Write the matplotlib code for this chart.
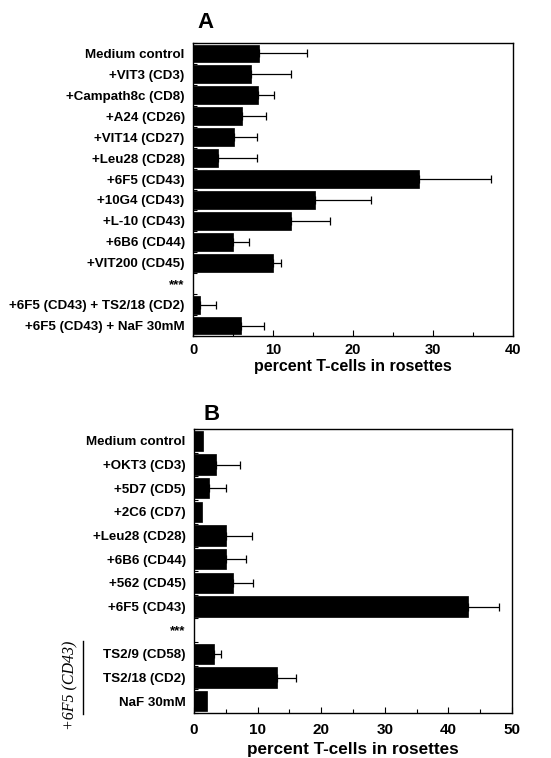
import numpy as np
import matplotlib
matplotlib.use("Agg")
import matplotlib.pyplot as plt
from matplotlib.lines import Line2D
from matplotlib.ticker import MultipleLocator

# ---------------- data ----------------
labels_a = ["Medium control", "+VIT3 (CD3)", "+Campath8c (CD8)", "+A24 (CD26)",
            "+VIT14 (CD27)", "+Leu28 (CD28)", "+6F5 (CD43)", "+10G4 (CD43)",
            "+L-10 (CD43)", "+6B6 (CD44)", "+VIT200 (CD45)", "***",
            "+6F5 (CD43) + TS2/18 (CD2)", "+6F5 (CD43) + NaF 30mM"]
values_a = [8.2, 7.2, 8.1, 6.1, 5.1, 3.1, 28.3, 15.2, 12.2, 5.0, 10.0, np.nan, 0.9, 6.0]
errors_a = [6.0, 5.0, 2.0, 3.0, 2.9, 4.9, 9.0, 7.1, 4.9, 2.0, 1.0, np.nan, 2.0, 2.9]

labels_b = ["Medium control", "+OKT3 (CD3)", "+5D7 (CD5)", "+2C6 (CD7)",
            "+Leu28 (CD28)", "+6B6 (CD44)", "+562 (CD45)", "+6F5 (CD43)", "***",
            "TS2/9 (CD58)", "TS2/18 (CD2)", "NaF 30mM"]
values_b = [1.4, 3.4, 2.3, 1.3, 5.1, 5.1, 6.2, 43.1, np.nan, 3.1, 13.0, 2.0]
errors_b = [0.0, 3.8, 2.8, 0.0, 4.0, 3.0, 3.0, 4.8, np.nan, 1.1, 3.0, 0.0]

xticks_a = [0, 10, 20, 30, 40]
xticks_b = [0, 10, 20, 30, 40, 50]
xlabel = "percent T-cells in rosettes"
group_label_b = "+6F5 (CD43)"

# ---------------- style ----------------
W, H = 551, 758
fig = plt.figure(figsize=(W / 100, H / 100), dpi=100)
SANS = ["Liberation Sans", "DejaVu Sans"]
SERIF = ["Liberation Serif", "DejaVu Serif"]


def px_axes(left, right, top, bottom):
    return fig.add_axes([left / W, 1 - bottom / H, (right - left) / W, (bottom - top) / H])


def draw_panel(ax, labels, values, errors, xmax, xticks, tick_fs, num_fs, xlab_fs, num_pad):
    n = len(labels)
    y = np.arange(n)
    vals = np.array(values, dtype=float)
    errs = np.array(errors, dtype=float)
    ok = ~np.isnan(vals)
    ax.barh(y[ok], vals[ok], height=0.85, color="black", edgecolor="black", linewidth=0.5)
    e = ok & (errs > 0)
    ax.errorbar(vals[e], y[e], xerr=[np.zeros(e.sum()), errs[e]], fmt="none",
                ecolor="black", elinewidth=0.9, capsize=3.2, capthick=0.9)
    ax.set_ylim(n - 0.5, -0.5)
    ax.set_xlim(0, xmax)
    ax.set_yticks(y)
    ax.set_yticklabels(labels, fontsize=tick_fs, fontweight="bold", family=SANS)
    ax.yaxis.set_minor_locator(MultipleLocator(1, offset=0.5))
    ax.set_xticks(xticks)
    ax.set_xticklabels([str(t) for t in xticks], fontsize=num_fs, fontweight="bold", family=SANS)
    ax.xaxis.set_minor_locator(MultipleLocator(5))
    ax.tick_params(axis="y", which="major", length=0, pad=6)
    ax.tick_params(axis="y", which="minor", length=3, direction="in", width=0.8)
    ax.tick_params(axis="x", which="major", length=4, direction="in", width=0.8, pad=num_pad)
    ax.tick_params(axis="x", which="minor", length=3, direction="in", width=0.8)
    for s in ax.spines.values():
        s.set_linewidth(1.0)
    ax.set_xlabel(xlabel, fontsize=xlab_fs, fontweight="bold", family=SANS)


axA = px_axes(193, 513, 43, 336)
draw_panel(axA, labels_a, values_a, errors_a, 40, xticks_a, 9.6, 10.5, 11.5, 5)
axA.xaxis.set_label_coords(0.5, -(359 - 336) / 293)

axB = px_axes(194, 512, 429, 713)
draw_panel(axB, labels_b, values_b, errors_b, 50, xticks_b, 9.6, 11, 12.3, 7)
axB.xaxis.set_label_coords(0.5, -(742 - 713) / 284)

fig.text(205 / W, 1 - 23 / H, "A", fontsize=16, fontweight="bold", family=SANS,
         ha="center", va="center")
fig.text(212 / W, 1 - 415 / H, "B", fontsize=16, fontweight="bold", family=SANS,
         ha="center", va="center")

fig.text(70 / W, 1 - 685 / H, group_label_b, rotation=90, fontsize=11.5, style="italic",
         family=SERIF, ha="center", va="center")
fig.add_artist(Line2D([83 / W, 83 / W], [1 - 641 / H, 1 - 714 / H], color="black",
                      linewidth=1.0, transform=fig.transFigure))

fig.savefig("out.png", dpi=100)
